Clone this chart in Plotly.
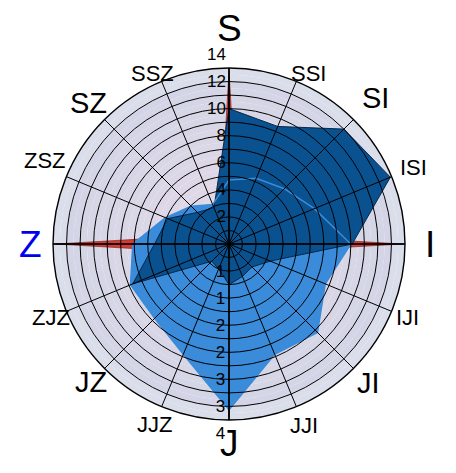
import math
import plotly.graph_objects as go

# ---------------- data ----------------
directions = ["S", "SSI", "SI", "ISI", "I", "IJI", "JI", "JJI",
              "J", "JJZ", "JZ", "ZJZ", "Z", "ZSZ", "SZ", "SSZ"]
angles = [i * 22.5 for i in range(16)]
dark_values = [10.0, 9.4, 12.0, 12.9, 9.1, 3.3, 2.4, 2.6,
               3.0, 2.0, 1.8, 7.7, 5.5, 4.9, 3.3, 2.9]          # outer scale 0-14
light_values = [1.35, 1.5, 1.65, 1.95, 2.57, 2.2, 2.64, 2.52,
                3.5, 2.52, 2.22, 2.25, 2.03, 1.45, 1.13, 0.9]    # inner scale 0-4
upper_ticks = [2, 4, 6, 8, 10, 12, 14]
lower_tick_text = ["1", "1", "2", "2", "3", "3", "4"]
cardinal_angles = [0, 90, 180, 270]

# ---------------- geometry / style ----------------
PAGE_MARGIN = 8                    # default <body> margin of the html page
W, H = 456 - 2 * PAGE_MARGIN, 473 - 2 * PAGE_MARGIN
CX, CY, R = 229 - PAGE_MARGIN, 244 - PAGE_MARGIN, 176   # disc centre / radius (px)
GRID_MAX = 13                      # outer circle value on the 0-14 scale
SCALE_MAX = 14
LIGHT_MAX = 4
label_radius = {"S": 215, "SSI": 188, "SI": 207, "ISI": 200, "I": 201, "IJI": 193,
                "JI": 197, "JJI": 196, "J": 199, "JJZ": 195, "JZ": 195, "ZJZ": 193,
                "Z": 199, "ZSZ": 202, "SZ": 199, "SSZ": 187}
label_angle_shift = {"ZSZ": 2.0, "SSI": 2.5, "SSZ": -1.5}
big, mid, small = 37, 29, 22
label_size = {d: (big if len(d) == 1 else mid if len(d) == 2 else small) for d in directions}
DARK = "#0a5190"
LIGHT = "#3a8bd9"


def domain(rpx):
    return dict(x=[(CX - rpx) / W, (CX + rpx) / W],
                y=[(H - CY - rpx) / H, (H - CY + rpx) / H])


def closed(v):
    return list(v) + [v[0]]


fig = go.Figure()

# background radial gradient (pinkish centre to grey-blue edge)
n_rings = 26
c0 = (230, 217, 231)
c1 = (209, 213, 230)
ring_cols = []
for i in range(n_rings):
    t = i / (n_rings - 1)
    ring_cols.append("rgb(%d,%d,%d)" % tuple(round(c0[k] + (c1[k] - c0[k]) * t) for k in range(3)))
ring_cols[-1] = ring_cols[-2] = "rgb(218,221,234)"
dr = GRID_MAX / n_rings
fig.add_trace(go.Barpolar(r=[dr] * n_rings, base=[i * dr for i in range(n_rings)],
                          theta=[0] * n_rings, width=[360] * n_rings,
                          marker=dict(color=ring_cols, line=dict(width=0)),
                          hoverinfo="skip", subplot="polar", showlegend=False))

# red compass spikes
spike_len, spike_w = 12.8, 0.75
for a in cardinal_angles:
    fig.add_trace(go.Scatterpolar(r=[spike_w, spike_len, spike_w, 0, spike_w],
                                  theta=[a - 90, a, a + 90, 0, a - 90],
                                  mode="lines", fill="toself", fillcolor="#d63a34",
                                  line=dict(color="#7a1a18", width=0.6),
                                  subplot="polar", showlegend=False, hoverinfo="skip"))

# light series fill
fig.add_trace(go.Scatterpolar(r=closed(light_values), theta=closed(angles), mode="lines",
                              fill="toself", fillcolor=LIGHT, line=dict(width=0, color=LIGHT),
                              subplot="polar2", showlegend=False))
# dark series
fig.add_trace(go.Scatterpolar(r=closed(dark_values), theta=closed(angles), mode="lines",
                              fill="toself", fillcolor=DARK, line=dict(width=1, color="#06284a"),
                              subplot="polar3", showlegend=False))
# light series outline on top
fig.add_trace(go.Scatterpolar(r=closed(light_values), theta=closed(angles), mode="lines",
                              line=dict(width=1.5, color=LIGHT),
                              subplot="polar4", showlegend=False))
# long cardinal axis lines
rr, tt = [], []
for a, L in zip(cardinal_angles, [13.45, 14.5, 13.75, 14.3]):
    rr += [0, L, None]
    tt += [a, a, None]
fig.add_trace(go.Scatterpolar(r=rr, theta=tt, mode="lines", line=dict(color="black", width=1.6),
                              cliponaxis=False, connectgaps=False,
                              subplot="polar5", showlegend=False))
# placeholder traces so that the label-only subplots are drawn
for sp in ("polar6", "polar7"):
    fig.add_trace(go.Scatterpolar(r=[0], theta=[0], mode="markers", marker=dict(opacity=0),
                                  subplot=sp, showlegend=False, hoverinfo="skip"))

hidden_ang = dict(visible=False, rotation=90, direction="clockwise")
base_polar = dict(bgcolor="rgba(0,0,0,0)", angularaxis=hidden_ang)

light_range = [0, GRID_MAX * LIGHT_MAX / SCALE_MAX]
fig.update_layout(
    width=W, height=H, margin=dict(l=0, r=0, t=0, b=0),
    paper_bgcolor="white",
    font=dict(family="Liberation Sans, Arial, sans-serif", color="black"),
    polar=dict(domain=domain(R), bgcolor="rgba(0,0,0,0)", angularaxis=hidden_ang,
               radialaxis=dict(range=[0, GRID_MAX], visible=False)),
    polar2=dict(domain=domain(R), **base_polar,
                radialaxis=dict(range=light_range, visible=False)),
    polar3=dict(domain=domain(R), **base_polar,
                radialaxis=dict(range=[0, GRID_MAX], visible=False)),
    polar4=dict(domain=domain(R), **base_polar,
                radialaxis=dict(range=light_range, visible=False)),
    polar5=dict(domain=domain(R), bgcolor="rgba(0,0,0,0)",
                angularaxis=dict(rotation=90, direction="clockwise", tickmode="array",
                                 tickvals=angles, showticklabels=False, ticks="",
                                 showgrid=True, gridcolor="black", gridwidth=1.2,
                                 showline=True, linecolor="black", linewidth=1.4),
                radialaxis=dict(range=[0, GRID_MAX], dtick=1, showgrid=True,
                                gridcolor="black", gridwidth=1.2, showline=False,
                                showticklabels=False, ticks="")),
    polar6=dict(domain=domain(R * SCALE_MAX / GRID_MAX), **base_polar,
                radialaxis=dict(range=[0, SCALE_MAX], angle=90, tickangle=90,
                                side="counterclockwise",
                                tickvals=upper_ticks, showline=False, showgrid=False,
                                ticks="", tickfont=dict(size=17, color="black"))),
    polar7=dict(domain=domain(R * SCALE_MAX / GRID_MAX), **base_polar,
                radialaxis=dict(range=[0, LIGHT_MAX], angle=270, tickangle=-90,
                                tickvals=[t * LIGHT_MAX / SCALE_MAX for t in upper_ticks],
                                ticktext=lower_tick_text, showline=False, showgrid=False,
                                ticks="", side="clockwise",
                                tickfont=dict(size=17, color="black"))),
)

for d, a in zip(directions, angles):
    r = label_radius[d]
    aa = math.radians(a + label_angle_shift.get(d, 0.0))
    x = CX + r * math.sin(aa)
    y = CY - r * math.cos(aa)
    fig.add_annotation(x=x / W, y=1 - y / H, xref="paper", yref="paper", text=d,
                       showarrow=False, xanchor="center", yanchor="middle",
                       font=dict(size=label_size[d], color="#0000ee" if d == "Z" else "black"))

fig.write_html("out.html")
